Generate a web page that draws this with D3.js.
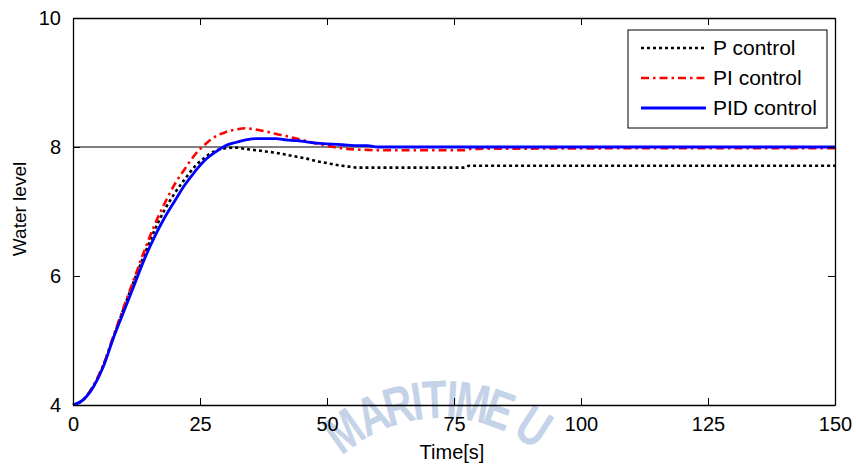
<!DOCTYPE html>
<html><head><meta charset="utf-8">
<script src="https://cdn.jsdelivr.net/npm/d3@7/dist/d3.min.js"></script>
<style>
html,body{margin:0;padding:0;background:#fff;}
svg{display:block;font-family:"Liberation Sans",Arial,Helvetica,sans-serif;}
</style></head>
<body><svg id="c" width="856" height="466"></svg>
<script>
// ---- data ----
const time = [0,2,4,6,8,10,12,14,16,18,20,22,24,26,28,30,32,34,36,38,40,42,44,46,48,50,52,54,56,58,60,65,70,77,78,90,110,130,150];
const pControl = [4.00,4.08,4.29,4.62,5.06,5.50,5.92,6.32,6.70,7.02,7.28,7.50,7.70,7.84,7.94,7.98,7.99,7.97,7.95,7.93,7.91,7.88,7.85,7.82,7.78,7.75,7.72,7.70,7.68,7.68,7.68,7.68,7.68,7.68,7.71,7.71,7.71,7.71,7.71];
const piControl = [4.00,4.08,4.30,4.63,5.08,5.52,5.95,6.38,6.78,7.12,7.42,7.66,7.88,8.04,8.16,8.23,8.27,8.29,8.27,8.24,8.20,8.17,8.13,8.09,8.05,8.02,7.99,7.97,7.96,7.955,7.95,7.95,7.95,7.95,7.97,7.975,7.98,7.98,7.98];
const pidControl = [4.00,4.08,4.28,4.60,5.05,5.45,5.85,6.25,6.60,6.90,7.16,7.41,7.62,7.80,7.92,8.02,8.07,8.11,8.13,8.13,8.13,8.11,8.10,8.08,8.06,8.05,8.04,8.03,8.02,8.02,8.00,8.00,8.00,8.00,8.00,8.00,8.00,8.00,8.00];
const seriesNames = ["P control","PI control","PID control"];
const xTicks = [0,25,50,75,100,125,150];
const yTicks = [4,6,8,10];
const setpoint = 8;
const watermark = "MARITIME U";
const watermarkAngles = [-35.5,-24.5,-15,-8.5,-2.5,3.5,10.5,20,null,33];

// ---- layout ----
const svg = d3.select("#c");
const L=73, T=18, W=762, H=387;

// watermark (behind everything)
const wm = svg.append("g");
const cx=442, cy=568, r=150;
watermark.split("").forEach((ch,i)=>{
  const a = watermarkAngles[i];
  if(a===null || ch===" ") return;
  const rad = a*Math.PI/180;
  wm.append("text")
    .attr("transform",`translate(${cx+r*Math.sin(rad)},${cy-r*Math.cos(rad)}) rotate(${a}) scale(0.75,1)`)
    .attr("text-anchor","middle")
    .attr("font-family","'Liberation Sans','DejaVu Sans',sans-serif")
    .attr("font-weight","bold")
    .attr("font-size",54)
    .attr("fill","#c5d3e9")
    .text(ch);
});

const x = d3.scaleLinear().domain([0,150]).range([L,L+W]);
const y = d3.scaleLinear().domain([4,10]).range([T+H,T]);

const g = svg.append("g");

// setpoint line
g.append("line").attr("x1",x(0)).attr("x2",x(150)).attr("y1",y(setpoint)).attr("y2",y(setpoint))
  .attr("stroke","#000").attr("stroke-width",1);

const line = d3.line().x(d=>x(d[0])).y(d=>y(d[1])).curve(d3.curveMonotoneX);
const styles = [
  {color:"#000",dash:"3,3",w:2.6},
  {color:"#ff0000",dash:"8,4,2.5,4",w:2.6},
  {color:"#0000ff",dash:null,w:2.8}
];
const data = [pControl,piControl,pidControl];
data.forEach((vals,k)=>{
  const pts = time.map((t,i)=>[t,vals[i]]);
  g.append("path").attr("d",line(pts)).attr("fill","none")
    .attr("stroke",styles[k].color).attr("stroke-width",styles[k].w)
    .attr("stroke-dasharray",styles[k].dash);
});

// axes box
const fs = 20;
const fmt = d3.format("d");
const xb = d3.axisBottom(x).tickValues(xTicks).tickFormat(fmt).tickSizeInner(-7).tickSizeOuter(0).tickPadding(12);
const xt = d3.axisTop(x).tickValues(xTicks).tickSizeInner(-7).tickSizeOuter(0).tickFormat("");
const yl = d3.axisLeft(y).tickValues(yTicks).tickFormat(fmt).tickSizeInner(-7).tickSizeOuter(0).tickPadding(12);
const yr = d3.axisRight(y).tickValues(yTicks).tickSizeInner(-7).tickSizeOuter(0).tickFormat("");
function style(sel){
  sel.selectAll("path").attr("stroke","#000").attr("stroke-width",1.3);
  sel.selectAll("line").attr("stroke","#000").attr("stroke-width",1);
  sel.selectAll("text").attr("font-size",fs).attr("fill","#000").attr("font-family","'Liberation Sans',Arial,sans-serif");
}
svg.append("g").attr("transform",`translate(0,${T+H})`).call(xb).call(style);
svg.append("g").attr("transform",`translate(0,${T})`).call(xt).call(style);
svg.append("g").attr("transform",`translate(${L},0)`).call(yl).call(style);
svg.append("g").attr("transform",`translate(${L+W},0)`).call(yr).call(style);

// axis labels
svg.append("text").attr("x",452).attr("y",459).attr("text-anchor","middle")
  .attr("font-size",fs).text("Time[s]");
svg.append("text").attr("transform","translate(26,209) rotate(-90)").attr("text-anchor","middle")
  .attr("font-size",19).text("Water level");

// legend
const lg = svg.append("g");
lg.append("rect").attr("x",628).attr("y",30).attr("width",199).attr("height",98)
  .attr("fill","#fff").attr("stroke","#000").attr("stroke-width",1);
seriesNames.forEach((n,k)=>{
  const yy = 48 + k*30;
  lg.append("line").attr("x1",641).attr("x2",706).attr("y1",yy).attr("y2",yy)
    .attr("stroke",styles[k].color).attr("stroke-width",styles[k].w).attr("stroke-dasharray",styles[k].dash);
  lg.append("text").attr("x",713).attr("y",yy+7).attr("font-size",21).text(n);
});
</script></body></html>
